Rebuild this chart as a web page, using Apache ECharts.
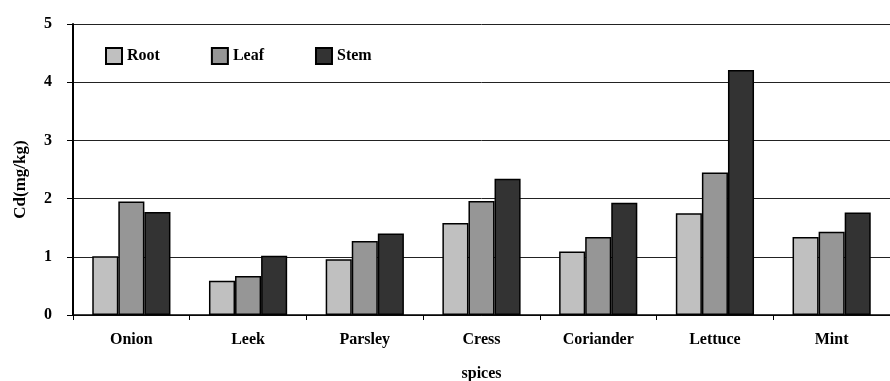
<!DOCTYPE html>
<html><head><meta charset="utf-8">
<script src="https://cdn.jsdelivr.net/npm/echarts@6/dist/echarts.min.js"></script>
<style>html,body{margin:0;padding:0;background:#fff}#c{width:890px;height:381px}</style>
</head><body><div id="c"></div>
<script>
const categories = ['Onion','Leek','Parsley','Cress','Coriander','Lettuce','Mint'];
const rootValues = [1.01, 0.59, 0.96, 1.58, 1.09, 1.75, 1.34];
const leafValues = [1.95, 0.67, 1.27, 1.96, 1.34, 2.45, 1.43];
const stemValues = [1.77, 1.02, 1.40, 2.34, 1.93, 4.21, 1.76];
const yTicks = [0,1,2,3,4,5];

const font = 'Liberation Serif';
const chart = echarts.init(document.getElementById('c'));
const mk = (name, data, color) => ({
  name, type: 'bar', data, barGap: '0%', barCategoryGap: '33%',
  itemStyle: { color, borderColor: '#000', borderWidth: 1.5 }
});
chart.setOption({
  animation: false,
  backgroundColor: '#fff',
  grid: { left: 73, right: 0, top: 24, bottom: 66, outerBoundsMode: 'none', containLabel: false },
  legend: {
    left: 100, top: 42, itemWidth: 16, itemHeight: 16, itemGap: 51,
    icon: 'rect',
    textStyle: { fontFamily: font, fontWeight: 'bold', fontSize: 16, color: '#000' },
    data: ['Root','Leaf','Stem']
  },
  xAxis: {
    type: 'category', data: categories,
    name: 'spices', nameLocation: 'middle', nameGap: 51,
    nameTextStyle: { fontFamily: font, fontWeight: 'bold', fontSize: 16, color: '#000' },
    axisLine: { lineStyle: { color: '#000', width: 1.5 } },
    axisTick: { show: true, length: 5, lineStyle: { color: '#000' } },
    axisLabel: { margin: 17, fontFamily: font, fontWeight: 'bold', fontSize: 16, color: '#000' }
  },
  yAxis: {
    type: 'value', min: 0, max: 5, interval: 1,
    name: 'Cd(mg/kg)', nameLocation: 'middle', nameGap: 44, nameRotate: 90,
    nameTextStyle: { fontFamily: font, fontWeight: 'bold', fontSize: 17, color: '#000', padding: [0,0,0,-20] },
    axisLine: { show: true, lineStyle: { color: '#000', width: 2 } },
    axisTick: { show: true, length: 6, lineStyle: { color: '#000' } },
    axisLabel: { margin: 21, fontFamily: font, fontWeight: 'bold', fontSize: 16, color: '#000',
      formatter: v => yTicks.includes(v) ? String(v) : '' },
    splitLine: { show: true, lineStyle: { color: '#222', width: 1 } }
  },
  series: [
    mk('Root', rootValues, '#c0c0c0'),
    mk('Leaf', leafValues, '#969696'),
    mk('Stem', stemValues, '#333333')
  ]
});
</script></body></html>
